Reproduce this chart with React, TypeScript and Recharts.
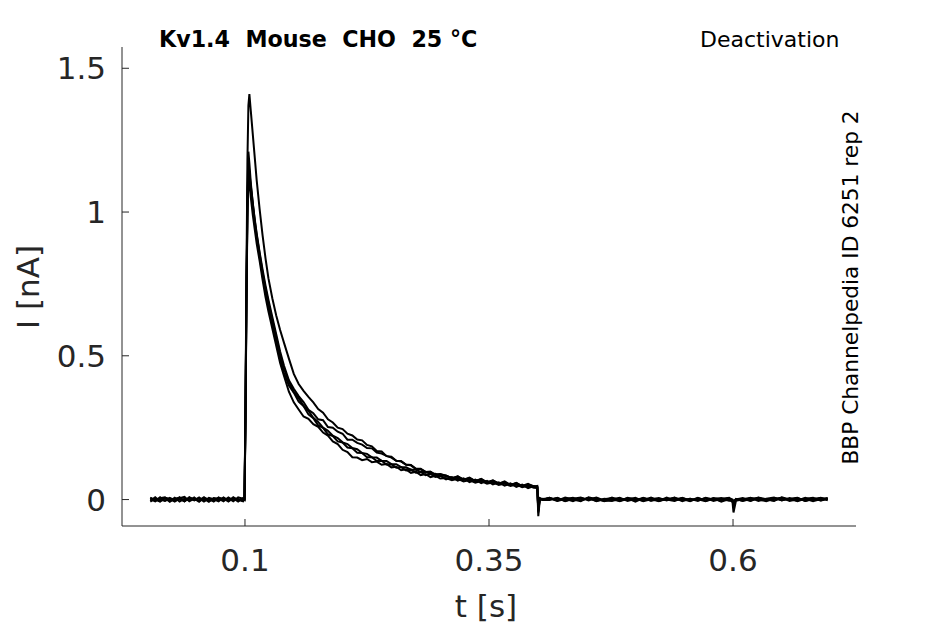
import React from 'react';
import { LineChart, Line, XAxis, YAxis } from 'recharts';

// time samples [s]
const T = [
  0.003, 0.008, 0.013, 0.018, 0.023, 0.028, 0.033, 0.038, 0.043, 0.048, 0.053, 0.058, 0.063, 0.068, 0.073, 0.078, 0.083, 0.088, 0.093, 0.098,
  0.0995, 0.1005, 0.1015, 0.1025, 0.1035, 0.1045,
  0.106, 0.108, 0.11, 0.112, 0.115, 0.118, 0.121, 0.124, 0.128, 0.132, 0.136, 0.14,
  0.145, 0.15, 0.155, 0.16, 0.165, 0.17, 0.175, 0.18, 0.185, 0.19, 0.195, 0.2, 0.205, 0.21, 0.215, 0.22, 0.225, 0.23, 0.235, 0.24, 0.245, 0.25, 0.255, 0.26, 0.265, 0.27, 0.275, 0.28, 0.285, 0.29, 0.295, 0.3,
  0.306, 0.312, 0.318, 0.324, 0.33, 0.336, 0.342, 0.348, 0.354, 0.36, 0.366, 0.372, 0.378, 0.384, 0.39, 0.396,
  0.3995, 0.4005, 0.402, 0.405,
  0.412, 0.42, 0.428, 0.436, 0.444, 0.452, 0.46, 0.468, 0.476, 0.484, 0.492, 0.5, 0.508, 0.516, 0.524, 0.532, 0.54, 0.548, 0.556, 0.564, 0.572, 0.58, 0.588, 0.596,
  0.5995, 0.6005, 0.603,
  0.61, 0.618, 0.626, 0.634, 0.642, 0.65, 0.658, 0.666, 0.674, 0.682, 0.69, 0.697,
];

// current traces [nA]
const TRACE_A = [
  0.007, -0.005, 0.008, -0.004, 0.002, -0.007, 0.005, 0.009, -0.006, 0.003, -0.008, 0.006, 0.0, -0.005, 0.007, -0.002, 0.005, -0.006, 0.008, 0.003,
  0.001, 0.32, 0.78, 1.18, 1.37, 1.41,
  1.35, 1.27, 1.19, 1.11, 1.01, 0.92, 0.84, 0.77, 0.7, 0.64, 0.59, 0.545,
  0.49, 0.437, 0.402, 0.378, 0.357, 0.338, 0.315, 0.302, 0.279, 0.268, 0.25, 0.245, 0.229, 0.223, 0.209, 0.206, 0.19, 0.185, 0.169, 0.167, 0.151, 0.149, 0.135, 0.133, 0.121, 0.119, 0.106, 0.105, 0.096, 0.097, 0.087, 0.089,
  0.083, 0.074, 0.081, 0.068, 0.075, 0.064, 0.071, 0.059, 0.066, 0.055, 0.061, 0.05, 0.057, 0.046, 0.052, 0.046,
  0.044, -0.03, 0.004, 0.001,
  0.006, -0.004, 0.007, 0.0, -0.006, 0.008, 0.001, -0.005, 0.007, -0.002, 0.004, -0.007, 0.005, 0.0, -0.005, 0.007, -0.003, 0.002, -0.006, 0.005, -0.002, 0.004, -0.007, 0.002,
  -0.002, -0.006, 0.0,
  0.005, -0.004, 0.007, 0.001, -0.005, 0.008, 0.0, -0.004, 0.006, -0.002, 0.005, 0.0,
];

const TRACE_B = [
  -0.004, 0.008, -0.006, 0.005, -0.008, 0.003, 0.006, -0.005, 0.008, -0.002, 0.005, -0.007, 0.006, 0.001, -0.006, 0.007, -0.003, 0.004, -0.007, 0.005,
  0.0, 0.3, 0.72, 1.06, 1.21, 1.17,
  1.1, 1.03, 0.97, 0.92, 0.855, 0.79, 0.735, 0.685, 0.625, 0.565, 0.505, 0.455,
  0.41, 0.374, 0.353, 0.326, 0.309, 0.284, 0.27, 0.25, 0.239, 0.222, 0.214, 0.199, 0.193, 0.179, 0.175, 0.162, 0.159, 0.147, 0.146, 0.135, 0.134, 0.123, 0.123, 0.113, 0.112, 0.104, 0.104, 0.096, 0.096, 0.089, 0.09, 0.083,
  0.084, 0.072, 0.081, 0.069, 0.076, 0.064, 0.072, 0.06, 0.067, 0.055, 0.063, 0.051, 0.058, 0.047, 0.055, 0.045,
  0.047, -0.045, 0.002, -0.002,
  -0.002, 0.006, -0.005, 0.003, 0.007, -0.003, 0.005, -0.006, 0.001, 0.006, -0.005, 0.003, -0.002, 0.007, -0.004, 0.001, 0.006, -0.006, 0.003, -0.002, 0.005, -0.005, 0.003, 0.006,
  -0.01, -0.045, -0.004,
  0.001, 0.006, -0.005, 0.003, 0.007, -0.003, 0.005, -0.006, 0.003, 0.006, -0.003, 0.005,
];

const TRACE_C = [
  0.002, -0.006, 0.005, 0.008, -0.005, 0.006, -0.007, 0.003, -0.003, 0.007, -0.005, 0.002, -0.008, 0.005, 0.003, -0.006, 0.007, -0.003, 0.002, -0.005,
  0.002, 0.28, 0.7, 1.01, 1.16, 1.13,
  1.08, 1.02, 0.96, 0.91, 0.845, 0.78, 0.72, 0.67, 0.61, 0.55, 0.49, 0.44,
  0.397, 0.372, 0.341, 0.325, 0.296, 0.283, 0.258, 0.249, 0.227, 0.221, 0.202, 0.198, 0.181, 0.178, 0.163, 0.162, 0.147, 0.147, 0.134, 0.135, 0.122, 0.123, 0.111, 0.113, 0.101, 0.104, 0.093, 0.096, 0.085, 0.089, 0.079, 0.083,
  0.07, 0.078, 0.066, 0.074, 0.061, 0.069, 0.057, 0.065, 0.053, 0.06, 0.048, 0.056, 0.044, 0.052, 0.04, 0.047,
  0.041, -0.035, 0.005, 0.0,
  0.004, -0.005, 0.002, 0.006, -0.003, 0.005, -0.006, 0.003, 0.0, -0.005, 0.006, 0.001, -0.004, 0.005, -0.006, 0.003, 0.0, 0.005, -0.004, 0.006, -0.005, 0.002, 0.005, -0.003,
  -0.003, -0.01, 0.001,
  -0.004, 0.005, 0.0, -0.006, 0.003, 0.006, -0.002, 0.005, -0.005, 0.002, 0.006, -0.003,
];

const TRACE_D = [
  -0.007, 0.003, 0.0, -0.005, 0.006, -0.002, 0.008, -0.006, 0.005, -0.003, 0.007, -0.005, 0.003, -0.007, 0.006, 0.001, -0.005, 0.008, -0.003, 0.0,
  -0.001, 0.26, 0.68, 0.98, 1.12, 1.1,
  1.05, 0.99, 0.94, 0.89, 0.83, 0.765, 0.705, 0.655, 0.595, 0.535, 0.475, 0.43,
  0.375, 0.338, 0.313, 0.289, 0.281, 0.262, 0.253, 0.233, 0.222, 0.202, 0.193, 0.173, 0.165, 0.147, 0.146, 0.137, 0.141, 0.13, 0.132, 0.121, 0.124, 0.112, 0.114, 0.102, 0.105, 0.093, 0.097, 0.085, 0.089, 0.078, 0.083, 0.073,
  0.075, 0.067, 0.072, 0.063, 0.068, 0.059, 0.064, 0.055, 0.06, 0.051, 0.056, 0.047, 0.052, 0.043, 0.048, 0.041,
  0.04, -0.058, -0.002, 0.003,
  0.0, 0.005, -0.006, 0.003, -0.002, 0.006, -0.005, 0.001, 0.005, -0.006, 0.003, -0.002, 0.006, -0.005, 0.003, 0.0, -0.005, 0.006, -0.003, 0.001, -0.006, 0.005, 0.0, -0.003,
  -0.004, -0.02, -0.001,
  0.003, -0.005, 0.005, 0.0, -0.003, 0.006, -0.005, 0.001, 0.003, -0.006, 0.002, 0.005,
];

const TRACE_E = [
  0.005, 0.0, -0.007, 0.006, 0.003, -0.005, 0.002, -0.006, 0.007, 0.0, -0.003, 0.008, -0.005, 0.003, -0.002, 0.006, -0.007, 0.005, 0.0, -0.006,
  0.001, 0.29, 0.71, 1.02, 1.17, 1.14,
  1.09, 1.03, 0.975, 0.925, 0.86, 0.8, 0.745, 0.695, 0.635, 0.575, 0.515, 0.465,
  0.415, 0.385, 0.36, 0.339, 0.312, 0.3, 0.279, 0.276, 0.252, 0.25, 0.236, 0.229, 0.208, 0.208, 0.197, 0.191, 0.179, 0.178, 0.163, 0.16, 0.152, 0.146, 0.135, 0.133, 0.122, 0.12, 0.108, 0.107, 0.096, 0.097, 0.085, 0.088,
  0.082, 0.076, 0.076, 0.071, 0.071, 0.066, 0.066, 0.061, 0.061, 0.057, 0.056, 0.052, 0.052, 0.047, 0.047, 0.045,
  0.043, -0.04, 0.003, -0.001,
  0.006, -0.002, 0.003, -0.006, 0.005, 0.0, 0.007, -0.003, -0.005, 0.003, 0.0, 0.006, -0.006, 0.001, 0.005, -0.003, 0.007, -0.002, 0.003, -0.005, 0.006, 0.0, -0.003, 0.005,
  0.0, -0.008, 0.002,
  -0.005, 0.002, 0.006, -0.003, 0.005, -0.002, 0.003, 0.006, -0.005, 0.003, -0.003, 0.002,
];

const X_TICKS = [0.1, 0.35, 0.6];
const Y_TICKS = [0, 0.5, 1, 1.5];
const SERIES_KEYS = ['a', 'b', 'c', 'd', 'e'];

const data = T.map((t, i) => ({
  t,
  a: TRACE_A[i],
  b: TRACE_B[i],
  c: TRACE_C[i],
  d: TRACE_D[i],
  e: TRACE_E[i],
}));

const FONT = "'DejaVu Sans', sans-serif";
const AXIS_COLOR = '#262626';

export default function App() {
  return (
    <div style={{ position: 'absolute', left: 0, top: 0, width: 945, height: 624, background: '#fff' }}>
      <LineChart
        width={945}
        height={624}
        data={data}
        margin={{ top: 47, right: 89, bottom: 0, left: 0 }}
      >
        <XAxis
          dataKey="t"
          type="number"
          domain={[-0.026, 0.726]}
          ticks={X_TICKS}
          interval={0}
          allowDataOverflow
          height={98}
          tickSize={-7}
          tickMargin={30}
          stroke={AXIS_COLOR}
          tick={{ fill: AXIS_COLOR, fontSize: 31, fontFamily: FONT }}
          tickFormatter={(v: number) => String(v)}
        />
        <YAxis
          type="number"
          domain={[-0.092, 1.574]}
          ticks={Y_TICKS}
          interval={0}
          allowDataOverflow
          width={122}
          tickSize={-7}
          tickMargin={23}
          stroke={AXIS_COLOR}
          tick={{ fill: AXIS_COLOR, fontSize: 31, fontFamily: FONT }}
          tickFormatter={(v: number) => String(v)}
        />
        {SERIES_KEYS.map((k) => (
          <Line
            key={k}
            type="linear"
            dataKey={k}
            stroke="#000"
            strokeWidth={2}
            dot={false}
            isAnimationActive={false}
          />
        ))}
      </LineChart>
      <svg
        width={945}
        height={624}
        style={{ position: 'absolute', left: 0, top: 0, pointerEvents: 'none' }}
      >
        <text
          x={159}
          y={47}
          fontFamily={FONT}
          fontWeight="bold"
          fontSize={22.2}
          fill="#000"
          style={{ whiteSpace: 'pre' }}
        >
          {'Kv1.4  Mouse  CHO  25 °C'}
        </text>
        <text x={700} y={46.5} fontFamily={FONT} fontSize={22} fill="#000">
          Deactivation
        </text>
        <text
          transform="translate(858, 287.5) rotate(-90)"
          textAnchor="middle"
          fontFamily={FONT}
          fontSize={21.7}
          fill="#000"
        >
          BBP Channelpedia ID 6251 rep 2
        </text>
        <text
          transform="translate(39, 287) rotate(-90)"
          textAnchor="middle"
          fontFamily={FONT}
          fontSize={31}
          fill={AXIS_COLOR}
        >
          I [nA]
        </text>
        <text x={486} y={617} textAnchor="middle" fontFamily={FONT} fontSize={31} fill={AXIS_COLOR}>
          t [s]
        </text>
      </svg>
    </div>
  );
}
